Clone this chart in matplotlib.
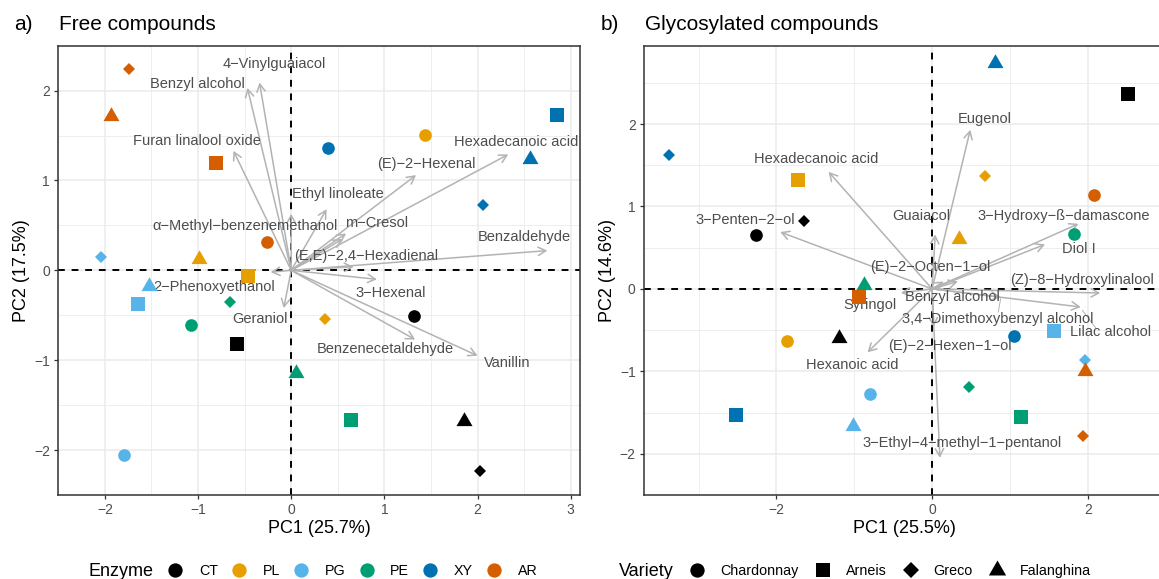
import numpy as np
import matplotlib
matplotlib.use("Agg")
import matplotlib.pyplot as plt
from matplotlib.lines import Line2D

plt.rcParams['font.family'] = ['Liberation Sans', 'DejaVu Sans']

# ---- data ----
enzymes = ['CT', 'PL', 'PG', 'PE', 'XY', 'AR']
varieties = ['Chardonnay', 'Arneis', 'Greco', 'Falanghina']
enzyme_colors = ['#000000', '#E69F00', '#56B4E9', '#009E73', '#0072B2', '#D55E00']

# scores, rows = enzyme, cols = variety (Chardonnay, Arneis, Greco, Falanghina)
free_pc1 = [[1.32, -0.58, 2.03, 1.85],
            [1.44, -0.46, 0.36, -0.99],
            [-1.80, -1.64, -2.04, -1.53],
            [-1.08, 0.64, -0.66, 0.05],
            [0.40, 2.85, 2.06, 2.56],
            [-0.26, -0.81, -1.74, -1.93]]
free_pc2 = [[-0.51, -0.82, -2.23, -1.68],
            [1.51, -0.06, -0.54, 0.13],
            [-2.05, -0.37, 0.15, -0.17],
            [-0.61, -1.66, -0.35, -1.14],
            [1.36, 1.73, 0.73, 1.24],
            [0.31, 1.19, 2.24, 1.72]]

gly_pc1 = [[-2.26, 2.51, -1.65, -1.20],
           [-1.86, -1.72, 0.68, 0.35],
           [-0.80, 1.57, 1.97, -1.01],
           [1.82, 1.14, 0.47, -0.87],
           [1.05, -2.52, -3.38, 0.81],
           [2.08, -0.94, 1.94, 1.96]]
gly_pc2 = [[0.65, 2.37, 0.82, -0.60],
           [-0.63, 1.32, 1.37, 0.61],
           [-1.27, -0.51, -0.86, -1.66],
           [0.67, -1.55, -1.19, 0.05],
           [-0.57, -1.53, 1.63, 2.74],
           [1.14, -0.10, -1.79, -1.00]]

# loadings: arrow tip and label position
free_vars = ['4\u2212Vinylguaiacol', 'Benzyl alcohol', 'Furan linalool oxide', 'Hexadecanoic acid',
             '(E)\u22122\u2212Hexenal', 'Ethyl linoleate', 'm\u2212Cresol', '',
             '\u03b1\u2212Methyl\u2212benzenemethanol', 'Benzaldehyde', '(E,E)\u22122,4\u2212Hexadienal',
             '2\u2212Phenoxyethanol', '3\u2212Hexenal', 'Geraniol', 'Benzenecetaldehyde', 'Vanillin']
free_x = [-0.34, -0.47, -0.62, 2.33, 1.34, 0.38, 0.59, 0.55, 0.0, 2.75, 0.67, -0.22, 0.92, -0.08, 1.33, 2.0]
free_y = [2.09, 2.03, 1.33, 1.29, 1.06, 0.68, 0.41, 0.35, 0.63, 0.22, 0.04, -0.02, -0.10, -0.42, -0.77, -0.95]
free_lx = [-0.18, -1.01, -1.01, 2.41, 1.45, 0.50, 0.92, 0.55, -0.49, 2.50, 0.81, -0.83, 1.07, -0.33, 1.01, 2.32]
free_ly = [2.30, 2.07, 1.44, 1.43, 1.18, 0.85, 0.53, 0.35, 0.49, 0.37, 0.16, -0.18, -0.25, -0.54, -0.88, -1.03]

gly_vars = ['Eugenol', 'Hexadecanoic acid', '3\u2212Penten\u22122\u2212ol', 'Guaiacol',
            '3\u2212Hydroxy\u2212\u00df\u2212damascone', 'Diol I', '(E)\u22122\u2212Octen\u22121\u2212ol',
            '(Z)\u22128\u2212Hydroxylinalool', 'Benzyl alcohol', 'Syringol',
            '3,4\u2212Dimethoxybenzyl alcohol', 'Lilac alcohol', '(E)\u22122\u2212Hexen\u22121\u2212ol',
            'Hexanoic acid', '3\u2212Ethyl\u22124\u2212methyl\u22121\u2212pentanol']
gly_x = [0.49, -1.33, -1.95, 0.04, 1.88, 1.45, 0.15, 2.16, 0.33, -0.40, 0.88, 1.91, 0.02, -0.83, 0.10]
gly_y = [1.93, 1.42, 0.69, 0.66, 0.79, 0.54, 0.09, -0.05, 0.09, -0.05, -0.10, -0.22, -0.46, -0.77, -2.05]
gly_lx = [0.68, -1.49, -2.40, -0.14, 1.69, 1.89, -0.02, 1.93, 0.26, -0.80, 0.84, 2.29, 0.23, -1.03, 0.38]
gly_ly = [2.06, 1.57, 0.84, 0.89, 0.89, 0.48, 0.26, 0.11, -0.10, -0.20, -0.36, -0.52, -0.69, -0.92, -1.87]

tri = [(-1, -0.577), (1, -0.577), (0, 1.155)]
markers = ['o', 's', 'D', tri]
msizes = [9.1, 10.3, 6.3, 13.3]

W, H = 1159, 579
fig = plt.figure(figsize=(W / 100, H / 100), dpi=100)


def draw_panel(ax, pc1, pc2, vx, vy, vlx, vly, vnames, xlim, ylim, xmaj, xmin, ymaj, ymin, xlab, ylab):
    ax.set_xlim(xlim)
    ax.set_ylim(ylim)
    ax.set_xticks(xmaj)
    ax.set_xticks(xmin, minor=True)
    ax.set_yticks(ymaj)
    ax.set_yticks(ymin, minor=True)
    ax.set_xticklabels([str(int(v)).replace('-', '\u2212') for v in xmaj])
    ax.set_yticklabels([str(int(v)).replace('-', '\u2212') for v in ymaj])
    ax.grid(which='major', color='#EBEBEB', lw=1.1)
    ax.grid(which='minor', color='#EBEBEB', lw=0.6)
    ax.set_axisbelow(True)
    ax.tick_params(which='major', length=3.0, width=0.9, color='#333333', labelcolor='#4D4D4D',
                   labelsize=10, pad=3)
    ax.tick_params(which='minor', length=0)
    for sp in ax.spines.values():
        sp.set_color('#333333')
        sp.set_linewidth(1.1)
    ax.axhline(0, color='black', ls=(0, (3.5, 3.5)), lw=1.4, zorder=1.5)
    ax.axvline(0, color='black', ls=(0, (3.5, 3.5)), lw=1.4, zorder=1.5)
    for i in range(len(vx)):
        ax.annotate('', xy=(vx[i], vy[i]), xytext=(0, 0),
                    arrowprops=dict(arrowstyle='->,head_length=0.55,head_width=0.3',
                                    color='#B3B3B3', lw=1.1, shrinkA=0, shrinkB=0),
                    zorder=2)
        if vnames[i]:
            ax.text(vlx[i], vly[i], vnames[i], ha='center', va='center', fontsize=10.5,
                    color='#4D4D4D', zorder=3)
    for e in range(len(enzymes)):
        for v in range(len(varieties)):
            ax.plot(pc1[e][v], pc2[e][v], ls='', marker=markers[v], ms=msizes[v],
                    color=enzyme_colors[e], mew=0, zorder=4)
    ax.set_xlabel(xlab, fontsize=13, labelpad=2)
    ax.set_ylabel(ylab, fontsize=13, labelpad=3)


ax1 = fig.add_axes([58.3 / W, 84 / H, 521.7 / W, 449.3 / H])
draw_panel(ax1, free_pc1, free_pc2, free_x, free_y, free_lx, free_ly, free_vars,
           (-2.285, 3.10), (-2.446, 2.45), [-2, -1, 0, 1, 2, 3], np.arange(-2.5, 3.5, 0.5),
           [-2, -1, 0, 1, 2], np.arange(-2.5, 3.0, 0.5), 'PC1 (25.7%)', 'PC2 (17.5%)')

ax2 = fig.add_axes([644 / W, 84 / H, 521.7 / W, 449.3 / H])
draw_panel(ax2, gly_pc1, gly_pc2, gly_x, gly_y, gly_lx, gly_ly, gly_vars,
           (-3.70, 2.82), (-2.283, 2.95), [-2, 0, 2], [-3, -1, 1, 3],
           [-2, -1, 0, 1, 2], np.arange(-2.5, 3.0, 0.5), 'PC1 (25.5%)', 'PC2 (14.6%)')
# repel segments for two labels
ax2.plot([1.93, 2.10], [-0.26, -0.47], color='#B3B3B3', lw=0.7, zorder=2)
ax2.plot([0.88, 0.85], [-0.12, -0.28], color='#B3B3B3', lw=0.7, zorder=2)

# titles
ty = 1 - 25 / H
fig.text(14 / W, ty, 'a)', fontsize=15, va='center')
fig.text(59 / W, ty, 'Free compounds', fontsize=15, va='center')
fig.text(601 / W, ty, 'b)', fontsize=15, va='center')
fig.text(645 / W, ty, 'Glycosylated compounds', fontsize=15, va='center')

# legends
ly = 1 - 571 / H
fig.text(88 / W, ly, 'Enzyme', fontsize=13, va='center')
h1 = [Line2D([], [], ls='', marker='o', ms=10.3, color=c, mew=0) for c in enzyme_colors]
fig.legend(h1, enzymes, ncol=6, loc='center left', bbox_to_anchor=(168 / W, ly), frameon=False,
           fontsize=10.3, handlelength=1.0, handletextpad=1.15, columnspacing=0.98,
           borderaxespad=0, borderpad=0)

fig.text(619 / W, ly, 'Variety', fontsize=13, va='center')
h2 = [Line2D([], [], ls='', marker=markers[i], ms=[10.3, 9.4, 8.0, 14.4][i], color='black', mew=0)
      for i in range(4)]
fig.legend(h2, varieties, ncol=4, loc='center left', bbox_to_anchor=(690 / W, ly), frameon=False,
           fontsize=10.3, handlelength=1.0, handletextpad=1.1, columnspacing=1.2,
           borderaxespad=0, borderpad=0)

fig.savefig('out.png', dpi=100)
